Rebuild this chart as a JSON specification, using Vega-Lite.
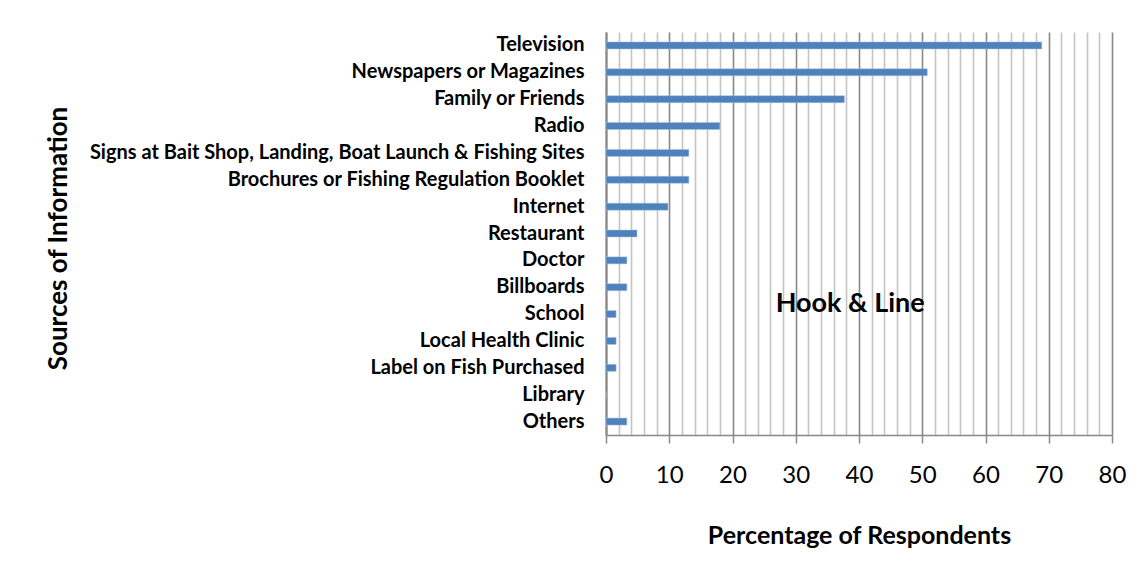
{
  "$schema": "https://vega.github.io/schema/vega-lite/v6.json",
  "autosize": "none",
  "width": 506,
  "height": 403,
  "padding": {"left": 606, "top": 32, "right": 32, "bottom": 138},
  "background": "white",
  "config": {"view": {"stroke": null}, "font": "Lato"},
  "encoding": {
    "y": {
      "field": "source", "type": "nominal", "sort": null,
      "scale": {"paddingInner": 0, "paddingOuter": 0},
      "axis": {
        "title": "Sources of Information",
        "titleFont": "Lato", "titleFontSize": 26, "titleFontWeight": "bold", "titleColor": "black",
        "titleX": -548, "titleY": 206, "titleAngle": -90, "titleAlign": "center", "titleBaseline": "middle",
        "labelFont": "Lato", "labelFontSize": 20, "labelFontWeight": "bold", "labelColor": "black",
        "labelPadding": 22, "ticks": false,
        "domainColor": "#868686", "domainWidth": 2, "labelLimit": 700
      }
    },
    "x": {
      "field": "pct", "type": "quantitative",
      "scale": {"domain": [0, 80], "nice": false},
      "axis": {
        "title": "Percentage of Respondents",
        "titleFont": "Lato", "titleFontSize": 25, "titleFontWeight": "bold", "titleColor": "black",
        "titlePadding": 36,
        "values": [0,2,4,6,8,10,12,14,16,18,20,22,24,26,28,30,32,34,36,38,40,42,44,46,48,50,52,54,56,58,60,62,64,66,68,70,72,74,76,78,80],
        "labelExpr": "datum.value % 10 === 0 ? datum.label : ''",
        "labelOverlap": false, "labelFlush": false,
        "labelFont": "Lato", "labelFontSize": 24, "labelColor": "black", "labelPadding": 20,
        "grid": true,
        "gridColor": {"condition": {"test": "datum.value % 10 === 0", "value": "#888888"}, "value": "#c4c4c4"},
        "gridWidth": 1.6,
        "tickSize": 8,
        "tickColor": {"condition": {"test": "datum.value % 10 === 0", "value": "#888888"}, "value": "transparent"},
        "tickWidth": 1.5,
        "domainColor": "#888888", "domainWidth": 1.5
      }
    }
  },
  "layer": [
    {
      "data": {"values": [
        {"source": "Television", "pct": 68.9},
        {"source": "Newspapers or Magazines", "pct": 50.8},
        {"source": "Family or Friends", "pct": 37.7},
        {"source": "Radio", "pct": 18.0},
        {"source": "Signs at Bait Shop, Landing, Boat Launch & Fishing Sites", "pct": 13.1},
        {"source": "Brochures or Fishing Regulation Booklet", "pct": 13.1},
        {"source": "Internet", "pct": 9.8},
        {"source": "Restaurant", "pct": 4.9},
        {"source": "Doctor", "pct": 3.3},
        {"source": "Billboards", "pct": 3.3},
        {"source": "School", "pct": 1.6},
        {"source": "Local Health Clinic", "pct": 1.6},
        {"source": "Label on Fish Purchased", "pct": 1.6},
        {"source": "Library", "pct": 0},
        {"source": "Others", "pct": 3.3}
      ]},
      "mark": {"type": "bar", "color": "#4F81BD", "size": 7, "stroke": "#a9c0de", "strokeWidth": 0.5}
    },
    {
      "data": {"values": [{"source": "School", "pct": 38.6, "label": "Hook & Line"}]},
      "mark": {"type": "text", "font": "Lato", "fontSize": 27, "fontWeight": "bold", "color": "black", "align": "center", "baseline": "middle", "dy": -10},
      "encoding": {
        "text": {"field": "label"}
      }
    }
  ]
}
